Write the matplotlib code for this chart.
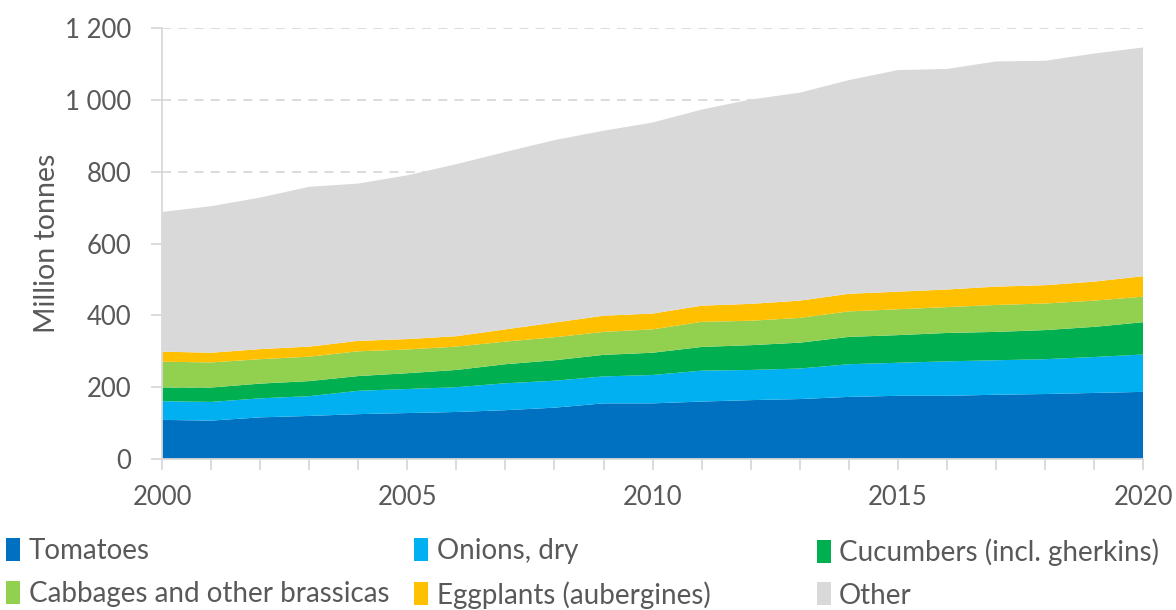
import matplotlib.pyplot as plt
from matplotlib.patches import Patch
from matplotlib.ticker import FuncFormatter

plt.rcParams['font.family'] = ['Lato', 'DejaVu Sans']

# valores en millones de toneladas
anios = list(range(2000, 2021))
tomates = [109, 107, 116, 120, 125, 128, 131, 136, 143, 155, 155, 160, 164, 167, 173, 176, 176, 179, 181, 184, 187]
cebollas = [52, 52, 53, 55, 65, 67, 69, 75, 75, 75, 79, 86, 84, 85, 91, 92, 96, 96, 97, 100, 104]
pepinos = [38, 40, 41, 42, 41, 44, 48, 53, 57, 60, 62, 66, 69, 72, 76, 77, 79, 79, 81, 84, 90]
coles = [72, 70, 68, 68, 69, 66, 65, 63, 64, 64, 65, 70, 68, 69, 71, 72, 72, 75, 74, 73, 71]
berenjenas = [28, 27, 28, 28, 29, 29, 29, 34, 41, 45, 44, 45, 47, 48, 49, 49, 49, 51, 51, 53, 57]
otros = [389, 408, 422, 445, 438, 456, 479, 494, 508, 515, 532, 546, 569, 579, 595, 617, 614, 627, 625, 635, 637]

nombres = ["Tomatoes", "Onions, dry", "Cucumbers (incl. gherkins)",
           "Cabbages and other brassicas", "Eggplants (aubergines)", "Other"]
colores = ["#0070C0", "#00B0F0", "#00B050", "#92D050", "#FFC000", "#D9D9D9"]

gris = "#595959"

fig = plt.figure(figsize=(11.76, 6.10), dpi=100)
ax = fig.add_axes([0.1378, 0.2475, 0.8342, 0.7065])

ax.stackplot(anios, tomates, cebollas, pepinos, coles, berenjenas, otros,
             colors=colores, linewidth=0, zorder=2)

ax.set_xlim(2000, 2020)
ax.set_ylim(0, 1200)
ax.set_yticks(range(0, 1201, 200))
ax.yaxis.set_major_formatter(FuncFormatter(lambda v, p: f"{v:,.0f}".replace(",", " ")))
ax.set_xticks(range(2000, 2021, 5))
ax.set_xticks(anios, minor=True)

ax.set_axisbelow(True)
ax.grid(axis="y", linestyle=(0, (5, 4)), color="#D9D9D9", linewidth=1.3, zorder=0)

for lado in ["top", "right"]:
    ax.spines[lado].set_visible(False)
for lado in ["left", "bottom"]:
    ax.spines[lado].set_color("#D9D9D9")
    ax.spines[lado].set_linewidth(1.3)

ax.tick_params(axis="both", which="both", color="#D9D9D9", width=1.3, length=8,
               labelcolor=gris, labelsize=18.5)
ax.tick_params(axis="x", which="major", pad=11)
ax.tick_params(axis="y", pad=14)

ax.set_ylabel("Million tonnes", fontsize=20.5, color=gris, labelpad=4)

# leyenda en tres columnas con ancho igual
columnas = [(0, 3), (1, 4), (2, 5)]
posx = [-0.004, 0.343, 0.685]
for (i, j), x in zip(columnas, posx):
    handles = [Patch(facecolor=colores[i], edgecolor="none"),
               Patch(facecolor=colores[j], edgecolor="none")]
    fig.legend(handles, [nombres[i], nombres[j]], loc="upper left",
               bbox_to_anchor=(x, 0.136), frameon=False, fontsize=20,
               labelcolor=gris, handlelength=0.5, handleheight=0.9,
               handletextpad=0.3, labelspacing=0.6, borderaxespad=0)

fig.savefig("out.png", dpi=100)
